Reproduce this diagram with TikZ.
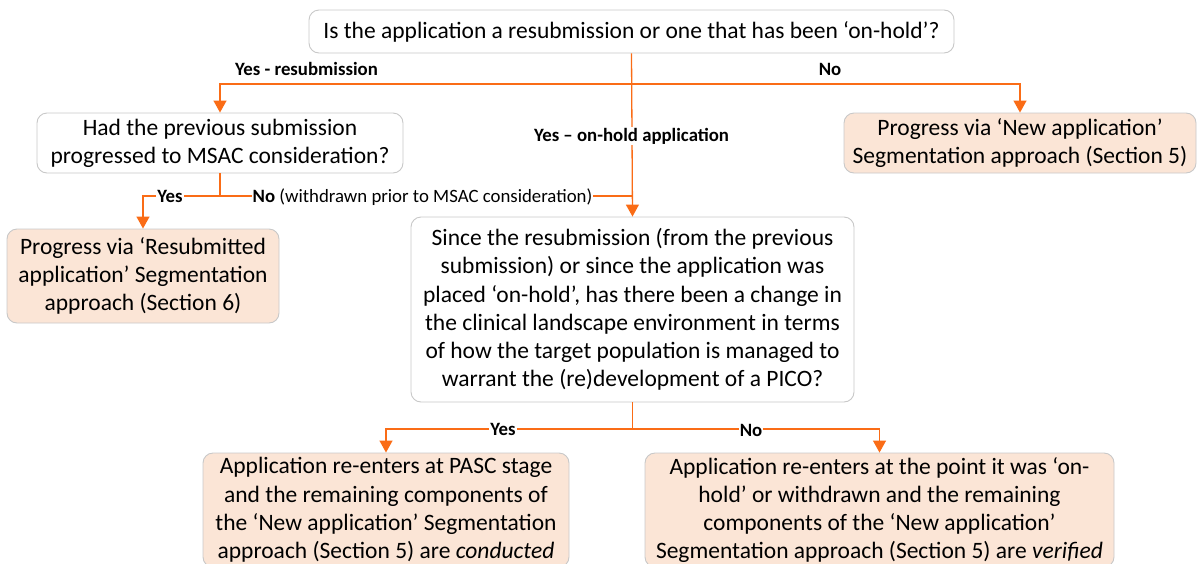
\documentclass[tikz,border=0pt]{standalone}
\usepackage{fontspec}
\setmainfont{Carlito}
\usetikzlibrary{arrows.meta}
\definecolor{lineor}{RGB}{250,108,22}
\definecolor{boxgray}{RGB}{200,200,200}
\definecolor{peach}{RGB}{251,229,214}
\tikzset{
  qbox/.style={draw=boxgray, line width=0.9pt, rounded corners=10pt, fill=white, inner sep=0pt, align=center, font=\fontsize{23.5}{28.2}\selectfont},
  abox/.style={qbox, fill=peach},
  conn/.style={draw=lineor, line width=1.3pt},
  arr/.style={conn, -{Triangle[width=13pt,length=12pt]}},
  lbl/.style={inner sep=1pt, font=\fontsize{18.8}{22}\selectfont\bfseries},
  lblw/.style={lbl, fill=white},
}
\begin{document}
\begin{tikzpicture}[x=1pt,y=-1pt]
\useasboundingbox (0,0) rectangle (1197,563);
\clip (0,0) rectangle (1197,563);
% boxes
\node[qbox, minimum width=645pt, minimum height=43pt] (top) at (631.5,31.5) {Is the application a resubmission or one that has been ‘on-hold’?};
\node[qbox, minimum width=366pt, minimum height=60pt] (q2) at (220,143) {Had the previous submission\\progressed to MSAC consideration?};
\node[abox, minimum width=352pt, minimum height=60pt] (newapp) at (1020,143) {Progress via ‘New application’\\Segmentation approach (Section 5)};
\node[abox, minimum width=272pt, minimum height=94pt] (resub) at (143,276) {Progress via ‘Resubmitted\\application’ Segmentation\\approach (Section 6)};
\node[qbox, minimum width=443pt, minimum height=185pt] (mid) at (632.5,309.5) {Since the resubmission (from the previous\\submission) or since the application was\\placed ‘on-hold’, has there been a change in\\the clinical landscape environment in terms\\of how the target population is managed to\\warrant the (re)development of a PICO?};
\node[abox, minimum width=366pt, minimum height=114pt] (bl) at (386,510) {Application re-enters at PASC stage\\and the remaining components of\\the ‘New application’ Segmentation\\approach (Section 5) are \textit{conducted}};
\node[abox, minimum width=469pt, minimum height=114pt] (br) at (879.5,510) {Application re-enters at the point it was ‘on-\\hold’ or withdrawn and the remaining\\components of the ‘New application’\\Segmentation approach (Section 5) are \textit{verified}};
% connectors from top question
\coordinate (j1) at (top.south |- 0,84);
\draw[arr] (top.south) -- (mid.north);
\draw[arr] (j1) -| (q2.north);
\draw[arr] (j1) -| (newapp.north);
\node[lbl] (lyr) at (306.5,69) {Yes - resubmission};
\node[lbl] (lno) at (830,69) {No};
\node[lblw] (loh) at (top.south |- 0,136) {Yes – on-hold application};
% connectors from second question
\coordinate (j2) at (q2.south |- 0,196);
\draw[conn] (q2.south) -- (j2);
\draw[arr] (j2) -| (resub.north);
\draw[conn] (j2) -- (mid.north |- j2);
\node[lblw] (lyes2) at (170,196) {Yes};
\node[lblw] (lno2) at (422.5,197) {No \mdseries(withdrawn prior to MSAC consideration)};
% connectors from middle question
\coordinate (j3) at (mid.south |- 0,429);
\draw[conn] (mid.south) -- (j3);
\draw[arr] (j3) -| (bl.north);
\draw[arr] (j3) -| (br.north);
\node[lblw] (lyes3) at (503,429) {Yes};
\node[lblw] (lno3) at (751,430) {No};
\end{tikzpicture}
\end{document}
